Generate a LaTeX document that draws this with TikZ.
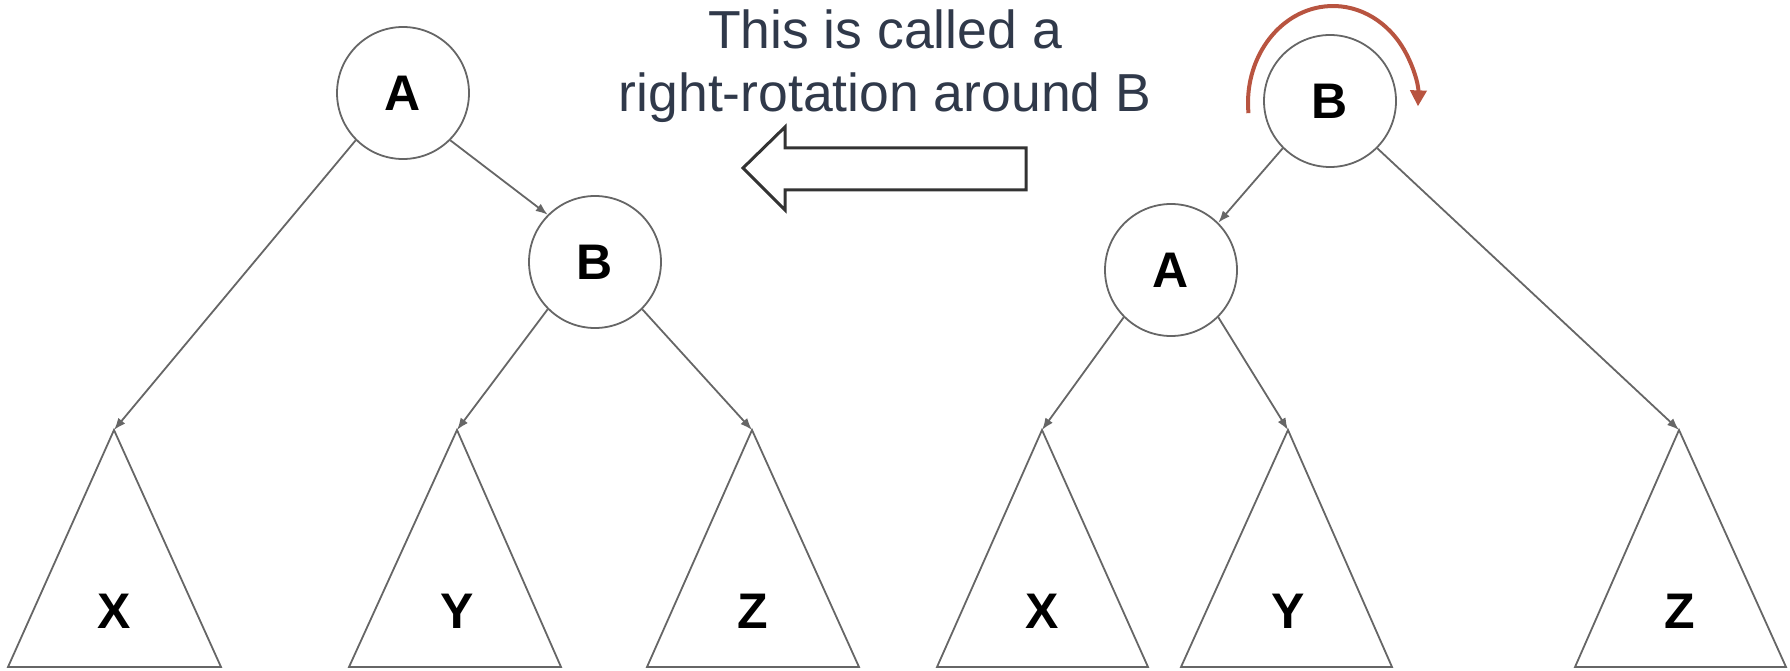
\documentclass[tikz,border=0pt]{standalone}
\usepackage{fontspec}
\setmainfont{Liberation Sans}
\usetikzlibrary{arrows.meta}
\definecolor{edgegray}{RGB}{102,102,102}
\definecolor{titlecol}{RGB}{48,57,74}
\definecolor{rust}{RGB}{184,84,64}
\definecolor{arrowdark}{RGB}{51,51,51}
\tikzset{
  treenode/.style={circle, draw=edgegray, line width=1.8pt, fill=white, minimum size=132pt, inner sep=0pt, font=\fontsize{50}{50}\selectfont\bfseries},
  subtree/.style={draw=edgegray, line width=1.8pt, line join=miter},
  sublabel/.style={font=\fontsize{50}{50}\selectfont\bfseries},
  edge/.style={draw=edgegray, line width=1.8pt, -{Latex[length=12pt,width=9pt]}},
  titletext/.style={text=titlecol, font=\fontsize{53.5}{60}\selectfont, anchor=base, inner sep=0pt},
}
\begin{document}
\begin{tikzpicture}[x=1pt, y=-1pt]
\useasboundingbox (0,0) rectangle (1790,671);
% title
\node[titletext] (t1) at (885,49) {This is called a};
\node[titletext] (t2) at (885,112) {right-rotation around B};
% hollow arrow
\draw[arrowdark, line width=3pt, line join=miter, fill=white]
  (743,168) -- (785,127) -- (785,148) -- (1026,148) -- (1026,190) -- (785,190) -- (785,210) -- cycle;

% ---------- left tree ----------
\node[treenode] (LA) at (403,93) {A};
\node[treenode] (LB) at (595,262) {B};
\coordinate (LX) at (114,430);
\coordinate (LY) at (457,430);
\coordinate (LZ) at (752,430);
\draw[subtree] (LX) -- (8,667) -- (221,667) -- cycle;
\draw[subtree] (LY) -- (349,667) -- (561,667) -- cycle;
\draw[subtree] (LZ) -- (647,667) -- (859,667) -- cycle;
\node[sublabel] (LXl) at (114,611) {X};
\node[sublabel] (LYl) at (457,611) {Y};
\node[sublabel] (LZl) at (753,611) {Z};
\draw[edge] (LA.south west) -- (LX);
\draw[edge] (LA.south east) -- (LB.north west);
\draw[edge] (LB.south west) -- (LY);
\draw[edge] (LB.south east) -- (LZ);

% ---------- right tree ----------
\node[treenode] (RB) at (1330,101) {B};
\node[treenode] (RA) at (1171,270) {A};
\coordinate (RX) at (1042,430);
\coordinate (RY) at (1288,430);
\coordinate (RZ) at (1679,430);
\draw[subtree] (RX) -- (937,667) -- (1148,667) -- cycle;
\draw[subtree] (RY) -- (1181,667) -- (1392,667) -- cycle;
\draw[subtree] (RZ) -- (1575,667) -- (1786,667) -- cycle;
\node[sublabel] (RXl) at (1042,611) {X};
\node[sublabel] (RYl) at (1288,611) {Y};
\node[sublabel] (RZl) at (1680,611) {Z};
\draw[edge] (RB.south west) -- (RA.north east);
\draw[edge] (RB.south east) -- (RZ);
\draw[edge] (RA.south west) -- (RX);
\draw[edge] (RA.south east) -- (RY);

% red rotation arrow
\draw[rust, line width=4pt, -{Triangle[length=16pt,width=16pt]}]
  (1333,103) ++(174:85 and 97) arc[start angle=174, end angle=362, x radius=85, y radius=97];
\end{tikzpicture}
\end{document}
